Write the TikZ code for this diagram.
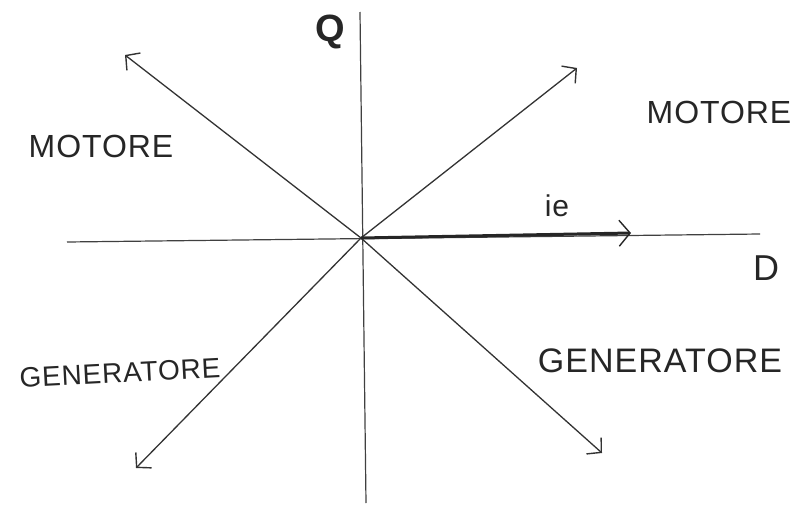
\documentclass[tikz,border=0pt]{standalone}
\usepackage{fontspec}
\setmainfont{Liberation Sans}[LetterSpace=3]
\usetikzlibrary{arrows.meta}
\begin{document}
\begin{tikzpicture}[x=1pt,y=-1pt,
  axis/.style={draw=black!75, line width=1.2pt},
  diag/.style={draw=black!80, line width=1.3pt, -{Straight Barb[length=10pt,width=22pt,line width=1.4pt]}},
  main/.style={draw=black!85, line width=3pt, -{Straight Barb[length=11pt,width=26pt,line width=1.4pt]}},
  lab/.style={text=black!85, inner sep=0pt}]
\useasboundingbox (0,0) rectangle (793,506);
\coordinate (O) at (361,238);
\coordinate (qtop) at (360,12);
\coordinate (qbot) at (366,503);
\coordinate (dleft) at (67,242);
\coordinate (dright) at (760,234);
\coordinate (ul) at (125,55);
\coordinate (ur) at (577,68);
\coordinate (ll) at (136,468);
\coordinate (lr) at (602,453);
\coordinate (ie) at (631,233);
\draw[axis] (qtop) -- (qbot);
\draw[axis] (dleft) -- (dright);
\draw[diag] (O) -- (ul);
\draw[diag] (O) -- (ur);
\draw[diag] (O) -- (ll);
\draw[diag] (O) -- (lr);
\draw[main] (O) -- (ie);
\node[lab, font=\fontsize{38}{42}\selectfont\bfseries] (q) at (330,32) {Q};
\node[lab, font=\fontsize{36}{40}\selectfont] (d) at (766,268) {D};
\node[lab, font=\fontsize{30}{34}\selectfont] (ielab) at (557,206) {ie};
\node[lab, font=\fontsize{32}{36}\selectfont] (m1) at (101,146) {MOTORE};
\node[lab, font=\fontsize{32}{36}\selectfont] (m2) at (719,112) {MOTORE};
\node[lab, font=\fontsize{28}{32}\selectfont, rotate=3] (g1) at (120,373) {GENERATORE};
\node[lab, font=\fontsize{34}{38}\selectfont] (g2) at (660,361) {GENERATORE};
\end{tikzpicture}
\end{document}
